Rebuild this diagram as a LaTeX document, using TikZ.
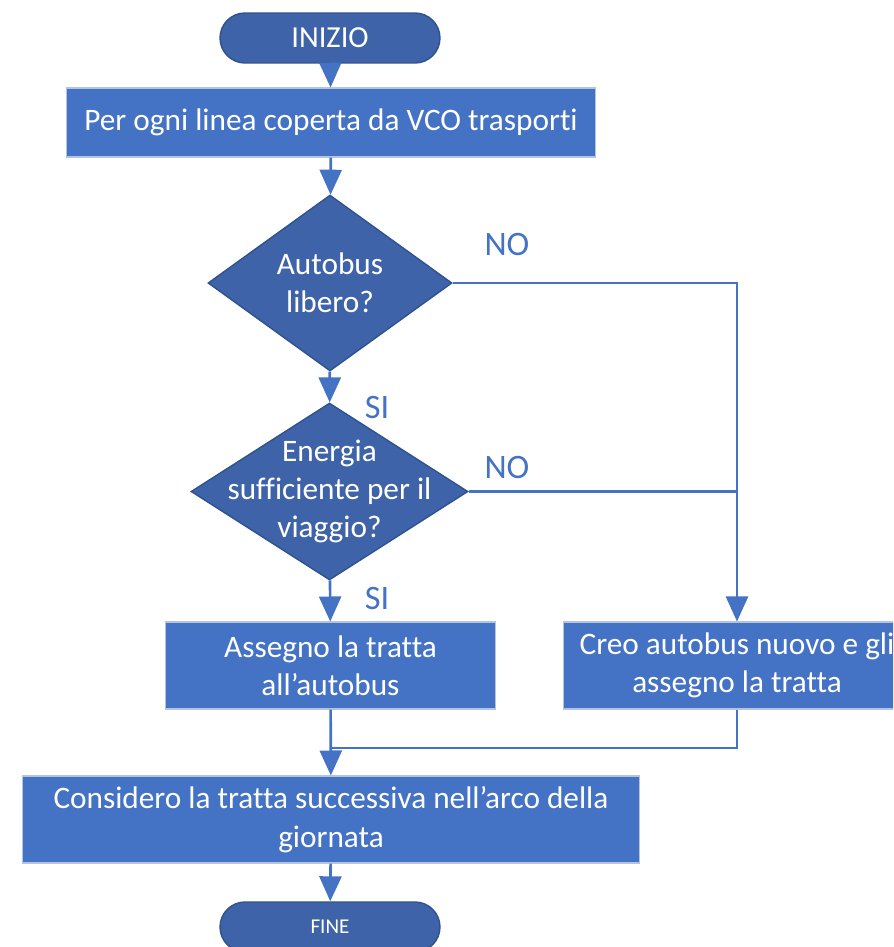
\documentclass[tikz,border=0pt]{standalone}
\usepackage{fontspec}
\setmainfont{Carlito}[Ligatures=NoCommon]
\usetikzlibrary{arrows.meta,positioning,calc,shapes.geometric}
\definecolor{Fill}{HTML}{4472C4}
\definecolor{Dark}{HTML}{3F63A9}
\definecolor{Rim}{HTML}{2F528F}
\definecolor{Pale}{HTML}{B4C3DF}
\tikzset{
  arr/.style={-{Triangle[length=0.5cm,width=0.44cm]},line width=1.5pt,draw=Fill},
  plain/.style={line width=1.5pt,draw=Fill},
  procbox/.style={draw=Pale,line width=0.6pt,fill=Fill,text=white,align=center,
    font=\fontsize{17.8}{21.8}\selectfont,inner sep=0pt},
  termbox/.style={draw=Rim,line width=0.8pt,fill=Dark,text=white,rounded corners=0.5cm,
    minimum width=4.4cm,minimum height=1cm,inner sep=0pt},
  decbox/.style={diamond,draw=Rim,line width=0.8pt,fill=Dark,inner sep=0pt},
  dtext/.style={text=white,align=center,font=\fontsize{17.8}{21.8}\selectfont},
  answer/.style={text=Fill,font=\fontsize{19.5}{23}\selectfont}
}
\begin{document}
\begin{tikzpicture}[x=0.02cm,y=-0.02cm]
  \useasboundingbox (0,0) rectangle (893,947);
  \clip (0,0) rectangle (893,947);
  \node[termbox,font=\fontsize{17.4}{20}\selectfont] (inizio) at (330,38) {INIZIO};
  \node[procbox,minimum width=10.6cm,minimum height=1.38cm] (ogni) at (331,122.5) {Per ogni linea coperta da VCO trasporti};
  \node[decbox,minimum width=4.88cm,minimum height=3.52cm,label={[dtext]center:Autobus\\libero?}] (lib) at (330,283) {};
  \node[decbox,minimum width=5.54cm,minimum height=3.54cm,label={[dtext]center:Energia\\sufficiente per il\\viaggio?}] (ene) at (329.5,491.5) {};
  \node[procbox,minimum width=6.62cm,minimum height=1.74cm] (ass) at (330.5,665.5) {Assegno la tratta\\all’autobus};
  \node[procbox,minimum width=6.96cm,minimum height=1.74cm] (creo) at (737,665.5) {Creo autobus nuovo e gli\\assegno la tratta};
  \node[procbox,minimum width=12.36cm,minimum height=1.74cm] (cons) at (331,819.5) {Considero la tratta successiva nell’arco della\\giornata};
  \node[termbox,font=\fontsize{12}{14}\selectfont] (fine) at (330,927) {FINE};
  % risposte
  \node[answer] (no1) at (507,244) {NO};
  \node[answer] (no2) at (507,467) {NO};
  \node[answer] (si1) at (377,407) {SI};
  \node[answer] (si2) at (377,598) {SI};
  \coordinate (join) at (330,748);
  \draw[arr] (inizio)--(ogni);
  \draw[arr] (ogni)--(lib);
  \draw[arr] (lib)--(ene);
  \draw[arr] (ene)--(ass);
  \draw[arr] (lib.east) -| (creo.north);
  \draw[plain] (ene.east) -- (ene.east -| creo.north);
  \draw[arr] (ass)--(cons);
  \draw[plain] (creo.south) |- (join);
  \draw[arr] (cons)--(fine);
\end{tikzpicture}
\end{document}
